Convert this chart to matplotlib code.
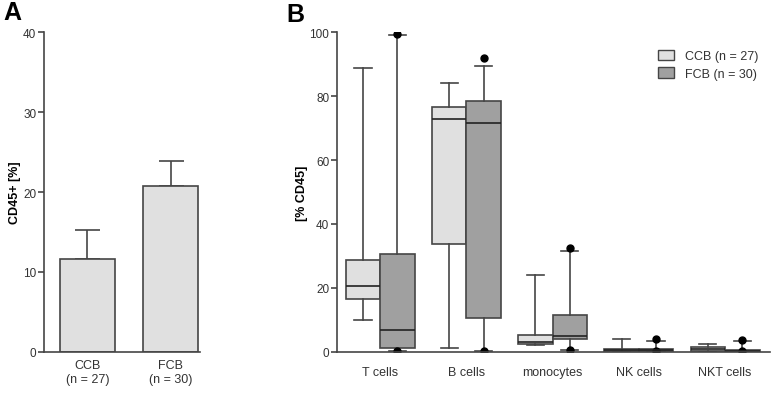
import matplotlib
matplotlib.use('Agg')
import matplotlib.pyplot as plt
from matplotlib.patches import Patch

plt.rcParams['font.family'] = ['Liberation Sans', 'DejaVu Sans']

# Panel A data
groups_a = ['CCB\n(n = 27)', 'FCB\n(n = 30)']
means_a = [11.6, 20.8]
sem_a = [3.6, 3.1]

# Panel B data (box stats)
cell_types = ['T cells', 'B cells', 'monocytes', 'NK cells', 'NKT cells']
ccb_low = [9.9, 1.4, 2.1, 0.0, 0.0]
ccb_q1 = [16.7, 33.6, 2.6, 0.2, 0.3]
ccb_med = [20.7, 72.8, 3.1, 0.5, 0.8]
ccb_q3 = [28.6, 76.6, 5.2, 1.0, 1.6]
ccb_high = [88.9, 84.0, 24.0, 4.2, 2.4]
ccb_out = [[], [], [], [], []]

fcb_low = [0.2, 0.2, 0.6, 0.0, 0.0]
fcb_q1 = [1.3, 10.6, 4.0, 0.2, 0.1]
fcb_med = [6.9, 71.7, 5.0, 0.6, 0.3]
fcb_q3 = [30.6, 78.3, 11.7, 1.0, 0.5]
fcb_high = [99.2, 89.4, 31.5, 3.3, 3.3]
fcb_out = [[99.5, 0.3], [91.9, 0.2], [32.4, 0.6], [4.0, 0.3], [3.65, 0.3]]

light = '#e0e0e0'
dark = '#a0a0a0'
edge = '#454545'

fig = plt.figure(figsize=(7.73, 4.02), dpi=100)

# ---- Panel A ----
ax1 = fig.add_axes([0.0569, 0.1219, 0.2018, 0.796])
xa = range(len(groups_a))
ax1.bar(xa, means_a, width=0.66, color=light, edgecolor=edge, linewidth=1.2, zorder=2)
ax1.errorbar(xa, means_a, yerr=[[0, 0], sem_a], fmt='none', ecolor=edge,
             elinewidth=1.2, capsize=9, capthick=1.2, zorder=1)
ax1.set_xlim(-0.52, 1.35)
ax1.set_ylim(0, 40)
ax1.set_yticks([0, 10, 20, 30, 40])
ax1.set_xticks(list(xa))
ax1.set_xticklabels(groups_a, fontsize=9, color='#333333')
ax1.set_ylabel('CD45+ [%]', fontsize=9, fontweight='bold')
ax1.yaxis.set_label_coords(-0.145, 0.5)
ax1.tick_params(axis='x', length=0, pad=5)

# ---- Panel B ----
ax2 = fig.add_axes([0.436, 0.1219, 0.560, 0.796])
pos = list(range(1, len(cell_types) + 1))


def make_stats(low, q1, med, q3, high, out):
    return [dict(whislo=low[i], q1=q1[i], med=med[i], q3=q3[i], whishi=high[i],
                 fliers=out[i]) for i in range(len(low))]


box_kw = dict(widths=0.4, patch_artist=True, showfliers=True,
              whiskerprops=dict(color=edge, linewidth=1.2),
              capprops=dict(color=edge, linewidth=1.2),
              medianprops=dict(color='#222222', linewidth=1.2),
              flierprops=dict(marker='o', markerfacecolor='black', markeredgecolor='black',
                              markersize=5))

b1 = ax2.bxp(make_stats(ccb_low, ccb_q1, ccb_med, ccb_q3, ccb_high, ccb_out),
             positions=[p - 0.2 for p in pos], **box_kw)
b2 = ax2.bxp(make_stats(fcb_low, fcb_q1, fcb_med, fcb_q3, fcb_high, fcb_out),
             positions=[p + 0.2 for p in pos], **box_kw)
for b, c in [(b1, light), (b2, dark)]:
    for patch in b['boxes']:
        patch.set_facecolor(c)
        patch.set_edgecolor(edge)
        patch.set_linewidth(1.2)

ax2.set_xlim(0.5, 5.52)
ax2.set_ylim(0, 100)
ax2.set_yticks([0, 20, 40, 60, 80, 100])
ax2.set_xticks(pos)
ax2.set_xticklabels(cell_types, fontsize=9, color='#333333')
ax2.set_ylabel('[% CD45]', fontsize=9, fontweight='bold')
ax2.yaxis.set_label_coords(-0.067, 0.5)
ax2.tick_params(axis='x', length=0, pad=10)

handles = [Patch(facecolor=light, edgecolor=edge, label='CCB (n = 27)'),
           Patch(facecolor=dark, edgecolor=edge, label='FCB (n = 30)')]
ax2.legend(handles=handles, loc='upper right', bbox_to_anchor=(1.0, 0.98), frameon=False,
           fontsize=9, handlelength=1.3, handleheight=0.9, handletextpad=0.9,
           labelspacing=0.4, labelcolor='#333333')

for ax in (ax1, ax2):
    for s in ('top', 'right'):
        ax.spines[s].set_visible(False)
    for s in ('left', 'bottom'):
        ax.spines[s].set_color(edge)
        ax.spines[s].set_linewidth(1.2)
    ax.tick_params(axis='y', direction='out', length=4, width=1.2, color=edge,
                   labelsize=8.5, labelcolor='#333333', pad=1.5)

fig.text(0.004, 0.95, 'A', fontsize=18, fontweight='bold')
fig.text(0.371, 0.945, 'B', fontsize=18, fontweight='bold')

fig.savefig('out.png', dpi=100)
